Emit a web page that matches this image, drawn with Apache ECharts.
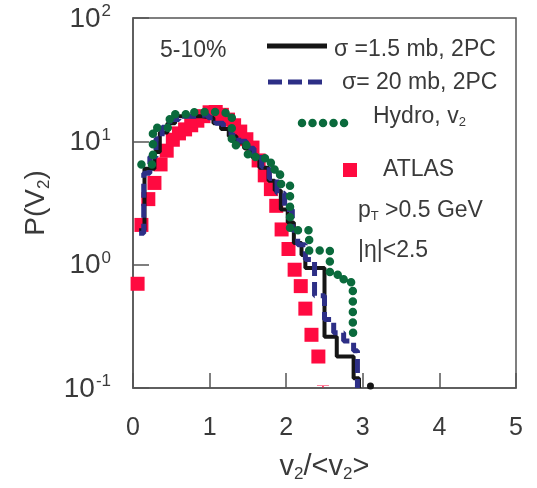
<!DOCTYPE html>
<html>
<head>
<meta charset="utf-8">
<script src="https://cdn.jsdelivr.net/npm/echarts@6/dist/echarts.min.js"></script>
<style>html,body{margin:0;padding:0;background:#fff}#c{width:537px;height:488px}</style>
</head>
<body>
<div id="c"></div>
<script>
// ---- data ----
const atlasX = [0.06,0.11,0.2,0.28,0.36,0.44,0.52,0.6,0.68,0.76,0.84,0.92,1.0,1.08,1.16,1.24,1.32,1.4,1.48,1.56,1.64,1.72,1.8,1.87,1.94,2.03,2.11,2.19,2.25,2.33,2.42];
const atlasY = [0.7,2.1,3.4,4.6,6.5,8.4,10.3,11.6,12.5,13.5,14.7,16,17.2,17.3,16.4,15,13.5,12,10.4,8.9,7,5.3,4.1,3.0,1.93,1.34,0.91,0.67,0.44,0.27,0.18];
const atlasErrX = [2.48];
const atlasErrY = [0.103];

const sig15Edges = [0.08,0.15,0.28,0.35,0.45,0.55,0.9,1.05,1.15,1.25,1.35,1.45,1.55,1.65,1.77,1.85,1.93,2.02,2.1,2.2,2.25,2.5,2.66,2.88,2.95];
const sig15Vals  = [1.9,6.0,8.2,11.8,14,16,15.5,14,12.6,11,9.8,8.8,7.5,6.1,4.8,4.0,2.8,2.2,1.5,1.2,0.94,0.26,0.18,0.12,0.1];
const sig15TailX = [3.1];
const sig15TailY = [0.104];

const sig20Edges = [0.08,0.14,0.22,0.3,0.38,0.48,0.6,0.85,0.98,1.08,1.18,1.28,1.38,1.48,1.58,1.68,1.78,1.88,1.98,2.08,2.15,2.25,2.37,2.5,2.62,2.75,2.88,2.93];
const sig20Vals  = [1.8,5.5,7.5,10.5,13,15,16,16.5,15.5,14,12.8,11.2,10,8.8,7.4,6.2,5,3.8,2.8,1.9,1.45,1.1,0.56,0.36,0.28,0.24,0.2,0.1];

const hydroEdges = [0.11,0.26,0.48,0.8,1.1,1.29,1.5,1.6,1.8,1.92,2.05,2.3,2.57,2.75,2.87,2.9];
const hydroVals  = [6.5,12.9,16.6,17.3,16.8,9.3,7.8,7.3,5.9,4.5,1.9,1.3,0.83,0.72,0.28,0.28];

const xTicks = [0,1,2,3,4,5];
const yTicks = [0.1,1,10,100];

function pairs(xs, ys){ return xs.map((x,i)=>[x, ys[i]]); }

const FONT = '"Liberation Sans", Arial, sans-serif';
const TXT = '#3a3a3a';
const AX = '#555';
const LF = 23; // legend font size
const RED = '#ff0a40';

const chart = echarts.init(document.getElementById('c'), null, {renderer:'canvas'});
chart.setOption({
  animation:false,
  backgroundColor:'#fff',
  grid:{left:133, right:21, top:18, bottom:88, show:true, borderColor:AX, borderWidth:1.5},
  xAxis:{
    type:'value', min:xTicks[0], max:xTicks[xTicks.length-1], interval:1,
    axisLine:{show:true, lineStyle:{color:AX, width:1.5}},
    axisTick:{show:true, inside:true, length:15, lineStyle:{color:AX, width:1.5}},
    splitLine:{show:false},
    axisLabel:{color:TXT, fontFamily:FONT, fontSize:25, margin:28},
    name:'v{s|2}/<v{s|2}>', nameLocation:'middle', nameGap:62,
    nameTextStyle:{color:TXT, fontFamily:FONT, fontSize:29,
      rich:{s:{fontSize:17, fontFamily:FONT, color:TXT, padding:[16,0,0,0]}}}
  },
  yAxis:{
    type:'log', logBase:10, min:yTicks[0], max:yTicks[yTicks.length-1],
    axisLine:{show:true, lineStyle:{color:AX, width:1.5}},
    axisTick:{show:true, inside:true, length:16, lineStyle:{color:AX, width:1.5}},
    minorTick:{show:false},
    splitLine:{show:false},
    axisLabel:{margin:22, fontFamily:FONT, color:TXT,
      formatter:function(v){ const e=Math.round(Math.log10(v)); return '{b|10}{s|'+e+'}'; },
      rich:{
        b:{fontSize:28, fontFamily:FONT, color:TXT, verticalAlign:'bottom'},
        s:{fontSize:17, fontFamily:FONT, color:TXT, verticalAlign:'bottom', padding:[0,0,13,1]}
      }},
    name:'P(V{s|2})', nameLocation:'middle', nameGap:80, nameRotate:90,
    nameTextStyle:{color:TXT, fontFamily:FONT, fontSize:28,
      rich:{s:{fontSize:17, fontFamily:FONT, color:TXT, padding:[16,0,0,0]}}}
  },
  series:[
    {type:'scatter', name:'ATLAS', data:pairs(atlasX, atlasY), symbol:'rect', symbolSize:14,
      itemStyle:{color:RED, opacity:1}, z:1},
    {type:'scatter', name:'ATLAS err', data:pairs(atlasErrX, atlasErrY),
      symbol:'path://M0,0h12v1.5h-12z M5.25,0h1.5v5h-1.5z', symbolSize:[12,5], symbolKeepAspect:true,
      itemStyle:{color:RED, opacity:1}, z:1},
    {type:'line', name:'s15', data:pairs(sig15Edges, sig15Vals), step:'end', showSymbol:false, symbol:'none',
      lineStyle:{color:'#151515', width:4}, z:2},
    {type:'scatter', name:'s15tail', data:pairs(sig15TailX, sig15TailY), symbol:'circle', symbolSize:7,
      itemStyle:{color:'#151515', opacity:1}, z:2},
    {type:'line', name:'s20', data:pairs(sig20Edges, sig20Vals), step:'end', showSymbol:false, symbol:'none',
      lineStyle:{color:'#2d2f86', width:5, type:[14,6]}, z:3},
    {type:'line', name:'hydro', data:pairs(hydroEdges, hydroVals), step:'end', showSymbol:false, symbol:'none',
      lineStyle:{color:'#0a6a3c', width:8.5, type:[0.01,10.5], cap:'round'}, z:4}
  ],
  graphic:[
    {type:'text', left:160, top:39, style:{text:'5-10%', font:LF+'px '+FONT, fill:TXT}},
    {type:'line', shape:{x1:267,y1:46,x2:327,y2:46}, style:{stroke:'#151515', lineWidth:5}},
    {type:'text', left:334, top:38, style:{text:'σ =1.5 mb, 2PC', font:LF+'px '+FONT, fill:TXT}},
    {type:'line', shape:{x1:268,y1:82,x2:325,y2:82}, style:{stroke:'#2d2f86', lineWidth:5, lineDash:[14,6]}},
    {type:'text', left:342, top:71, style:{text:'σ= 20 mb, 2PC', font:LF+'px '+FONT, fill:TXT}},
    {type:'line', shape:{x1:302,y1:123,x2:352,y2:123}, style:{stroke:'#0a6a3c', lineWidth:8.5, lineDash:[0.01,10.5], lineCap:'round'}},
    {type:'text', left:373, top:105, style:{text:'{n|Hydro, v}{s|2}', font:LF+'px '+FONT, fill:TXT,
      rich:{n:{fontSize:LF, fontFamily:FONT, fill:TXT}, s:{fontSize:13, fontFamily:FONT, fill:TXT, padding:[12,0,0,0]}}}},
    {type:'rect', shape:{x:343,y:163,width:14,height:14}, style:{fill:RED}},
    {type:'text', left:383, top:158, style:{text:'ATLAS', font:LF+'px '+FONT, fill:TXT}},
    {type:'text', left:358, top:199, style:{text:'{n|p}{s|T}{n| >0.5 GeV}', font:LF+'px '+FONT, fill:TXT,
      rich:{n:{fontSize:LF, fontFamily:FONT, fill:TXT}, s:{fontSize:13, fontFamily:FONT, fill:TXT, padding:[12,0,0,0]}}}},
    {type:'text', left:358, top:239, style:{text:'|η|<2.5', font:LF+'px '+FONT, fill:TXT}}
  ]
});
</script>
</body>
</html>
